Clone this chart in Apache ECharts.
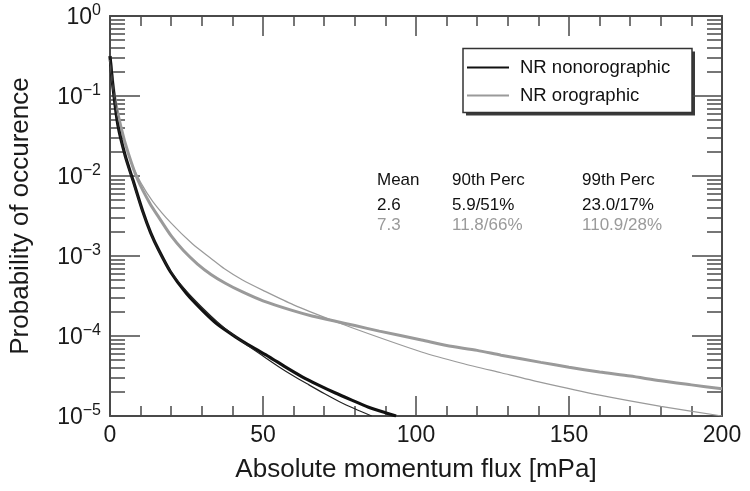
<!DOCTYPE html>
<html>
<head>
<meta charset="utf-8">
<script src="https://cdn.jsdelivr.net/npm/echarts@6/dist/echarts.min.js"></script>
<style>html,body{margin:0;padding:0;background:#fff;}#c{width:750px;height:491px;}</style>
</head>
<body>
<div id="c"></div>
<script>
// ---- data ----
const seriesNames = ['NR nonorographic', 'NR orographic'];

const nonoroX = [0, 1, 2.6, 5, 7.5, 10.7, 13.3, 16, 19.8, 25, 30.2, 35, 41, 46.5, 52, 57, 62.8, 68, 73.5, 79, 84.5, 90, 93.5];
const nonoroY = [0.316, 0.126, 0.0427, 0.0178, 0.00891, 0.00363, 0.00195, 0.00117, 6.31e-4, 3.39e-4, 2.09e-4, 1.41e-4, 9.77e-5, 7.24e-5, 5.50e-5, 4.17e-5, 3.09e-5, 2.45e-5, 1.95e-5, 1.58e-5, 1.29e-5, 1.10e-5, 1.0e-5];

const nonoroFitX = [0, 1, 2.6, 5, 7.5, 10.7, 13.3, 16, 20, 25, 30, 35, 40, 45, 50, 55, 60, 65, 70, 75, 80, 85.5];
const nonoroFitY = [0.316, 0.126, 0.0437, 0.0174, 0.00851, 0.00355, 0.00195, 0.00115, 6.31e-4, 3.63e-4, 2.29e-4, 1.51e-4, 1.05e-4, 7.59e-5, 5.62e-5, 4.17e-5, 3.16e-5, 2.45e-5, 1.91e-5, 1.51e-5, 1.23e-5, 1.0e-5];

const oroX = [0, 1.5, 3.6, 6, 9.1, 13, 16, 20, 24, 28.6, 33, 37.7, 43.3, 50, 59.5, 66, 73, 80, 88, 101.8, 110, 120, 127.8, 140.8, 150, 160, 170, 180, 190, 200];
const oroY = [0.316, 0.1, 0.0407, 0.0191, 0.00891, 0.00457, 0.00302, 0.00178, 0.00117, 7.94e-4, 5.89e-4, 4.57e-4, 3.55e-4, 2.75e-4, 2.09e-4, 1.78e-4, 1.55e-4, 1.35e-4, 1.15e-4, 8.91e-5, 7.59e-5, 6.61e-5, 5.75e-5, 4.68e-5, 4.07e-5, 3.55e-5, 3.16e-5, 2.75e-5, 2.45e-5, 2.19e-5];

const oroFitX = [0, 1, 2, 3.5, 5, 7, 10, 14, 20, 27, 33, 37.4, 43.3, 50, 60, 73, 85, 101.8, 115, 127.8, 140.8, 160, 180, 200];
const oroFitY = [0.282, 0.126, 0.0708, 0.0398, 0.0251, 0.0145, 0.00832, 0.00479, 0.00257, 0.00141, 9.33e-4, 6.92e-4, 5.01e-4, 3.72e-4, 2.45e-4, 1.55e-4, 1.05e-4, 6.31e-5, 4.57e-5, 3.47e-5, 2.63e-5, 1.82e-5, 1.32e-5, 1.0e-5];

const xTicks = [0, 50, 100, 150, 200];
const yMajorTicks = [1e-5, 1e-4, 1e-3, 1e-2, 1e-1, 1];
const yMinorTicks = [
  2e-5,3e-5,4e-5,5e-5,6e-5,7e-5,8e-5,9e-5,
  2e-4,3e-4,4e-4,5e-4,6e-4,7e-4,8e-4,9e-4,
  2e-3,3e-3,4e-3,5e-3,6e-3,7e-3,8e-3,9e-3,
  2e-2,3e-2,4e-2,5e-2,6e-2,7e-2,8e-2,9e-2,
  2e-1,3e-1,4e-1,5e-1,6e-1,7e-1,8e-1,9e-1
];

const statHeaders = ['Mean', '90th Perc', '99th Perc'];
const statNonoro = ['2.6', '5.9/51%', '23.0/17%'];
const statOro = ['7.3', '11.8/66%', '110.9/28%'];

const xTitle = 'Absolute momentum flux [mPa]';
const yTitle = 'Probability of occurence';

// ---- build ----
function zip(xs, ys) { return xs.map((x, i) => [x, ys[i]]); }
const FONT = 'Liberation Sans, Arial, Helvetica, sans-serif';
const AX = '#4a4a4a';
const BLACK = '#111111';
const GRAY = '#9a9a9a';

function yAxisCfg(pos, major, labels) {
  return {
    type: 'log', logBase: 10, min: 1e-5, max: 1, position: pos,
    axisLine: { show: major, lineStyle: { color: AX, width: 2 } },
    axisTick: {
      show: true, inside: true, length: major ? 30 : 15,
      customValues: major ? yMajorTicks : yMinorTicks,
      lineStyle: { color: AX, width: 1.5 }
    },
    minorTick: { show: false },
    splitLine: { show: false },
    axisLabel: labels ? {
      show: true, margin: 9, customValues: yMajorTicks,
      formatter: function (v) {
        const e = Math.round(Math.log10(v));
        return '{a|10}{b|' + (e < 0 ? '\u2212' + (-e) : e) + '}';
      },
      rich: {
        a: { fontSize: 23, fontFamily: FONT, color: '#1a1a1a', lineHeight: 26, verticalAlign: 'bottom' },
        b: { fontSize: 16, fontFamily: FONT, color: '#1a1a1a', lineHeight: 14, verticalAlign: 'top' }
      }
    } : { show: false },
    name: labels ? yTitle : '',
    nameLocation: 'middle', nameGap: 76,
    nameTextStyle: { fontSize: 26, fontFamily: FONT, color: '#1a1a1a' }
  };
}

function xAxisCfg(pos, labels) {
  return {
    type: 'value', min: 0, max: 200, interval: 50, position: pos,
    axisLine: { show: true, lineStyle: { color: AX, width: 2 } },
    axisTick: { show: true, inside: true, length: 20, lineStyle: { color: AX, width: 1.5 } },
    minorTick: { show: true, splitNumber: 5, length: 10, lineStyle: { color: AX, width: 1.5 } },
    splitLine: { show: false },
    axisLabel: labels ? {
      show: true, margin: 8, fontSize: 23, fontFamily: FONT, color: '#1a1a1a',
      customValues: xTicks
    } : { show: false },
    name: labels ? xTitle : '',
    nameLocation: 'middle', nameGap: 41,
    nameTextStyle: { fontSize: 26, fontFamily: FONT, color: '#1a1a1a' }
  };
}

const graphics = [
  // legend frame with drop shadow
  { type: 'rect', z: 0, silent: true, shape: { x: 466, y: 51.5, width: 229, height: 64 }, style: { fill: '#3a3a3a' } },
  { type: 'rect', z: 1, silent: true, shape: { x: 463, y: 48.5, width: 229, height: 64 }, style: { fill: '#ffffff', stroke: '#333333', lineWidth: 1.5 } }
];
const colX = [377, 452, 582];
const rows = [[statHeaders, 180, BLACK], [statNonoro, 205.5, BLACK], [statOro, 225.5, GRAY]];
rows.forEach(function (r) {
  r[0].forEach(function (t, i) {
    graphics.push({
      type: 'text', x: colX[i], y: r[1], silent: true,
      style: { text: t, fill: r[2], font: '17px ' + FONT, align: 'left', verticalAlign: 'middle' }
    });
  });
});

const chart = echarts.init(document.getElementById('c'), null, { renderer: 'canvas' });
chart.setOption({
  animation: false,
  backgroundColor: '#ffffff',
  grid: { left: 107, right: 28, top: 16, bottom: 75 },
  xAxis: [xAxisCfg('bottom', true), xAxisCfg('top', false)],
  yAxis: [yAxisCfg('left', true, true), yAxisCfg('left', false, false), yAxisCfg('right', true, false), yAxisCfg('right', false, false)],
  graphic: graphics,
  legend: {
    data: seriesNames, orient: 'vertical', left: 463, top: 51,
    z: 10,
    padding: [7, 16, 7, 4], itemWidth: 42, itemHeight: 2, itemGap: 9,
    icon: 'rect',
    selectedMode: false,
    textStyle: { fontSize: 18.5, lineHeight: 16, fontFamily: FONT, color: '#111', padding: [0, 0, 0, 6] }
  },
  series: [
    { name: seriesNames[1], type: 'line', data: zip(oroX, oroY), showSymbol: false, symbol: 'none', smooth: 0.25, lineStyle: { color: GRAY, width: 3 }, itemStyle: { color: GRAY }, z: 2 },
    { name: seriesNames[0], type: 'line', data: zip(nonoroX, nonoroY), showSymbol: false, symbol: 'none', smooth: 0.25, lineStyle: { color: BLACK, width: 3.2 }, itemStyle: { color: BLACK }, z: 3 },
    { name: 'orographic fit', type: 'line', data: zip(oroFitX, oroFitY), showSymbol: false, symbol: 'none', smooth: 0.25, lineStyle: { color: GRAY, width: 1.2 }, z: 4 },
    { name: 'nonorographic fit', type: 'line', data: zip(nonoroFitX, nonoroFitY), showSymbol: false, symbol: 'none', smooth: 0.25, lineStyle: { color: '#222', width: 1.2 }, z: 5 }
  ]
});
</script>
</body>
</html>
